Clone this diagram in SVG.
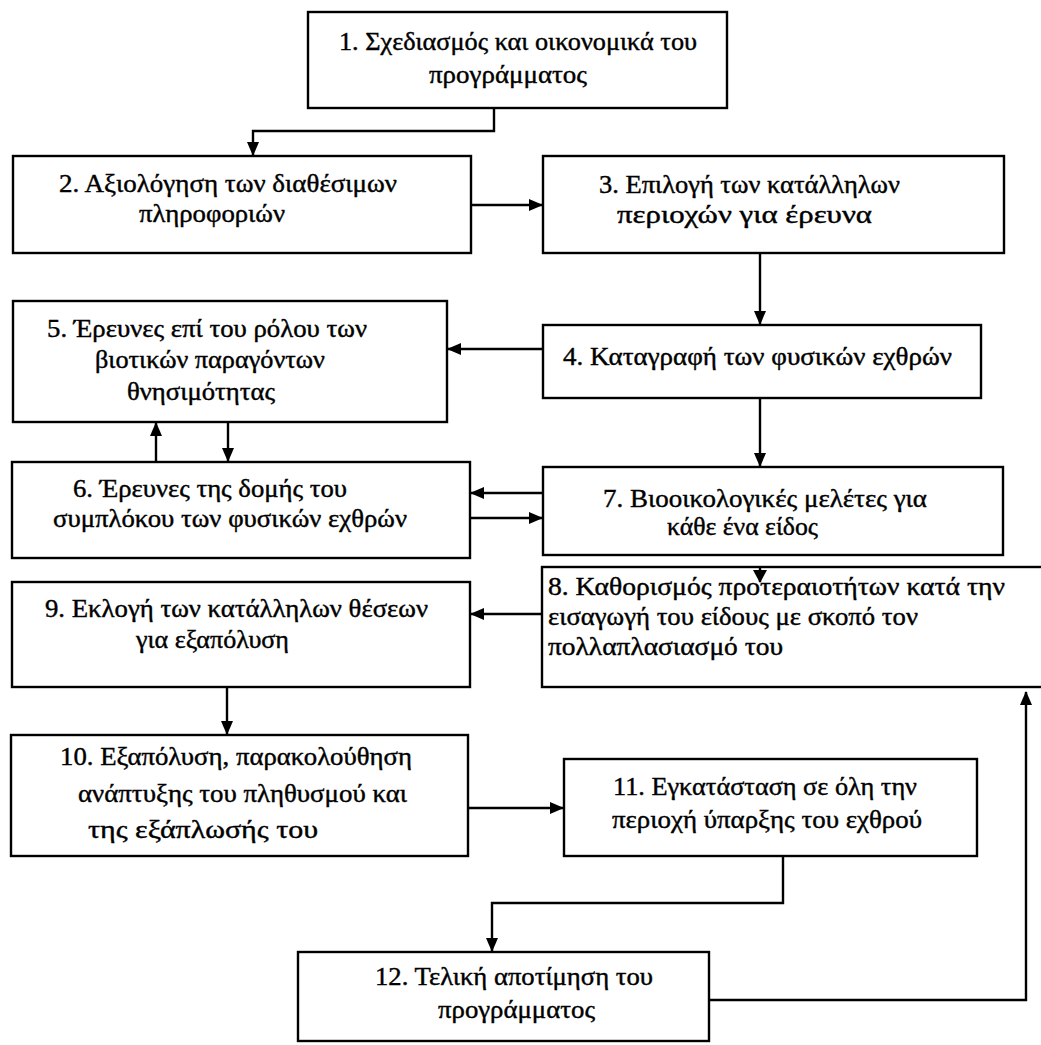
<svg xmlns="http://www.w3.org/2000/svg" width="1041" height="1045" viewBox="0 0 1041 1045">
<style>
  .box{fill:#fff;stroke:#000;stroke-width:2.4}
  .t{font-family:"Liberation Serif","DejaVu Serif",serif;font-size:25px;fill:#000;stroke:#000;stroke-width:0.4}
  .c{fill:none;stroke:#000;stroke-width:2.4}
</style>
<defs>
  <marker id="ah" markerWidth="14" markerHeight="12" refX="13" refY="6" orient="auto" markerUnits="userSpaceOnUse">
    <path d="M0,0 L14,6 L0,12 Z" fill="#000"/>
  </marker>
</defs>
<rect width="1041" height="1045" fill="#fff"/>
<g id="connectors">
  <path class="c" d="M494,108 V131 H253 V155" marker-end="url(#ah)"/>
  <path class="c" d="M471,205 H542" marker-end="url(#ah)"/>
  <path class="c" d="M760,253 V324" marker-end="url(#ah)"/>
  <path class="c" d="M543,349 H448" marker-end="url(#ah)"/>
  <path class="c" d="M156,462 V423" marker-end="url(#ah)"/>
  <path class="c" d="M228,422 V461" marker-end="url(#ah)"/>
  <path class="c" d="M760,398 V466" marker-end="url(#ah)"/>
  <path class="c" d="M543,493 H471" marker-end="url(#ah)"/>
  <path class="c" d="M470,518 H542" marker-end="url(#ah)"/>
  <path class="c" d="M542,614 H471" marker-end="url(#ah)"/>
  <path class="c" d="M227,687 V734" marker-end="url(#ah)"/>
  <path class="c" d="M468,808 H563" marker-end="url(#ah)"/>
  <path class="c" d="M783,856 V903 H492 V951" marker-end="url(#ah)"/>
  <path class="c" d="M709,1000 H1026 V692" marker-end="url(#ah)"/>
</g>
<g id="n1"><rect class="box" x="308" y="12" width="419" height="96"/>
  <text class="t" x="339" y="50" textLength="358" lengthAdjust="spacingAndGlyphs">1. Σχεδιασμός και οικονομικά του</text>
  <text class="t" x="429" y="83" textLength="158" lengthAdjust="spacingAndGlyphs">προγράμματος</text></g>
<g id="n2"><rect class="box" x="13" y="156" width="458" height="97"/>
  <text class="t" x="59" y="192" textLength="338" lengthAdjust="spacingAndGlyphs">2. Αξιολόγηση των διαθέσιμων</text>
  <text class="t" x="139" y="222" textLength="146" lengthAdjust="spacingAndGlyphs">πληροφοριών</text></g>
<g id="n3"><rect class="box" x="543" y="156" width="461" height="97"/>
  <text class="t" x="599" y="193" textLength="301" lengthAdjust="spacingAndGlyphs">3. Επιλογή των κατάλληλων</text>
  <text class="t" x="617" y="223" textLength="255" lengthAdjust="spacingAndGlyphs">περιοχών για έρευνα</text></g>
<g id="n4"><rect class="box" x="543" y="325" width="438" height="73"/>
  <text class="t" x="563" y="365" textLength="389" lengthAdjust="spacingAndGlyphs">4. Καταγραφή των φυσικών εχθρών</text></g>
<g id="n5"><rect class="box" x="13" y="301" width="434" height="121"/>
  <text class="t" x="47" y="337" textLength="320" lengthAdjust="spacingAndGlyphs">5. Έρευνες επί του ρόλου των</text>
  <text class="t" x="95" y="368" textLength="230" lengthAdjust="spacingAndGlyphs">βιοτικών παραγόντων</text>
  <text class="t" x="127" y="400" textLength="148" lengthAdjust="spacingAndGlyphs">θνησιμότητας</text></g>
<g id="n6"><rect class="box" x="12" y="462" width="458" height="96"/>
  <text class="t" x="73" y="497" textLength="274" lengthAdjust="spacingAndGlyphs">6. Έρευνες της δομής του</text>
  <text class="t" x="53" y="527" textLength="354" lengthAdjust="spacingAndGlyphs">συμπλόκου των φυσικών εχθρών</text></g>
<g id="n7"><rect class="box" x="543" y="467" width="460" height="88"/>
  <text class="t" x="603" y="507" textLength="324" lengthAdjust="spacingAndGlyphs">7. Βιοοικολογικές μελέτες για</text>
  <text class="t" x="667" y="535" textLength="151" lengthAdjust="spacingAndGlyphs">κάθε ένα είδος</text></g>
<g id="n8"><rect class="box" x="542" y="567" width="520" height="120"/>
  <text class="t" x="548" y="595" textLength="457" lengthAdjust="spacingAndGlyphs">8. Καθορισμός προτεραιοτήτων κατά την</text>
  <text class="t" x="548" y="625" textLength="370" lengthAdjust="spacingAndGlyphs">εισαγωγή του είδους με σκοπό τον</text>
  <text class="t" x="548" y="655" textLength="235" lengthAdjust="spacingAndGlyphs">πολλαπλασιασμό του</text></g>
<path d="M760,568 V582" stroke="#000" stroke-width="2.4"/>
<path d="M753,570 L767,570 L760,583 Z" fill="#000"/>
<g id="n9"><rect class="box" x="12" y="582" width="458" height="105"/>
  <text class="t" x="45" y="617" textLength="383" lengthAdjust="spacingAndGlyphs">9. Εκλογή των κατάλληλων θέσεων</text>
  <text class="t" x="136" y="648" textLength="153" lengthAdjust="spacingAndGlyphs">για εξαπόλυση</text></g>
<g id="n10"><rect class="box" x="11" y="735" width="457" height="121"/>
  <text class="t" x="60" y="765" textLength="352" lengthAdjust="spacingAndGlyphs">10. Εξαπόλυση, παρακολούθηση</text>
  <text class="t" x="78" y="802" textLength="329" lengthAdjust="spacingAndGlyphs">ανάπτυξης του πληθυσμού και</text>
  <text class="t" x="88" y="838" textLength="230" lengthAdjust="spacingAndGlyphs">της εξάπλωσής του</text></g>
<g id="n11"><rect class="box" x="564" y="759" width="413" height="97"/>
  <text class="t" x="613" y="795" textLength="304" lengthAdjust="spacingAndGlyphs">11. Εγκατάσταση σε όλη την</text>
  <text class="t" x="612" y="828" textLength="310" lengthAdjust="spacingAndGlyphs">περιοχή ύπαρξης του εχθρού</text></g>
<g id="n12"><rect class="box" x="298" y="952" width="411" height="89"/>
  <text class="t" x="375" y="985" textLength="278" lengthAdjust="spacingAndGlyphs">12. Τελική αποτίμηση του</text>
  <text class="t" x="438" y="1018" textLength="157" lengthAdjust="spacingAndGlyphs">προγράμματος</text></g>
</svg>
